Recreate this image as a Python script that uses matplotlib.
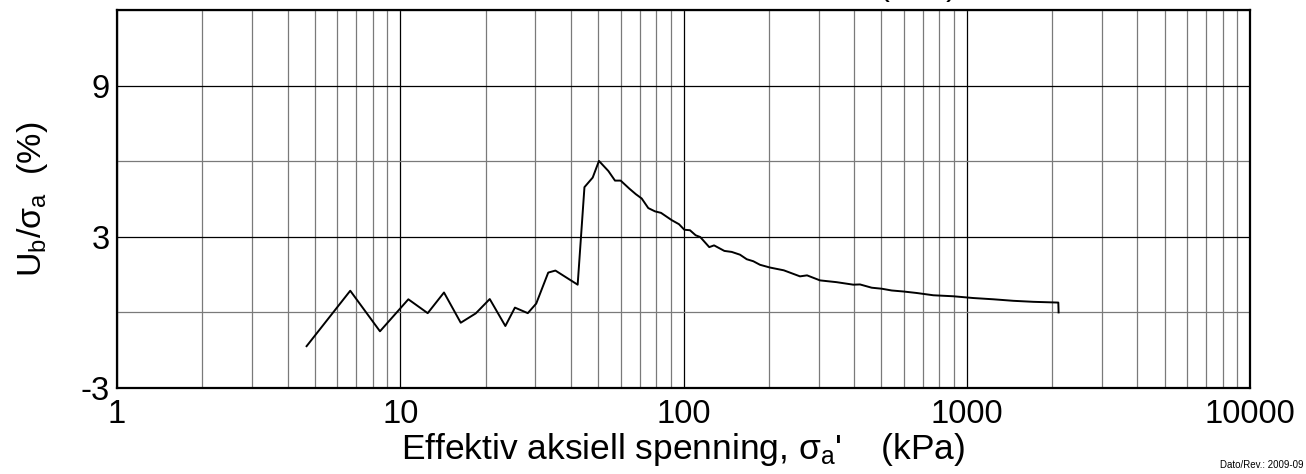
import matplotlib
matplotlib.use("Agg")
import matplotlib.pyplot as plt
from matplotlib.ticker import FixedLocator, NullFormatter

plt.rcParams['font.family'] = ['Liberation Sans', 'DejaVu Sans']
plt.rcParams['mathtext.fontset'] = 'custom'
plt.rcParams['mathtext.rm'] = 'Liberation Sans'
plt.rcParams['mathtext.it'] = 'Liberation Sans'
plt.rcParams['mathtext.bf'] = 'Liberation Sans:bold'

# Effective axial stress (kPa)
stress = [4.67, 6.66, 8.48, 10.68, 12.5, 14.27, 16.35, 18.47, 20.7, 23.5,
          25.4, 28.2, 30.2, 33.3, 35.3, 42.3, 44.7, 47.8, 50.3, 54.3,
          57.3, 60.0, 64.4, 67.9, 71.2, 75.1, 79.3, 83.3, 90.9, 96.4,
          100.7, 105.4, 110.4, 114.6, 123.3, 128.2, 139.4, 148, 158.3, 167.2,
          176.4, 186.2, 202, 226, 257.8, 273, 303.4, 347, 397.7, 419.8,
          461.7, 500.8, 543, 597, 666, 762, 897, 1055, 1242, 1460,
          1718, 2105, 2110]
# Ub / sigma_a (%)
ratio = [-1.34, 0.86, -0.75, 0.52, -0.03, 0.79, -0.41, -0.04, 0.53, -0.54,
         0.19, -0.03, 0.35, 1.58, 1.66, 1.10, 4.97, 5.35, 6.01, 5.61,
         5.23, 5.23, 4.91, 4.69, 4.52, 4.14, 4.01, 3.95, 3.66, 3.50,
         3.28, 3.26, 3.06, 2.99, 2.59, 2.66, 2.44, 2.40, 2.29, 2.11,
         2.03, 1.89, 1.78, 1.67, 1.43, 1.47, 1.27, 1.20, 1.10, 1.11,
         0.98, 0.94, 0.87, 0.83, 0.77, 0.68, 0.64, 0.57, 0.52, 0.46,
         0.42, 0.39, 0.0]

x_ticks = [1, 10, 100, 1000, 10000]
x_tick_labels = ["1", "10", "100", "1000", "10000"]
y_ticks = [-3, 3, 9]
y_tick_labels = ["-3", "3", "9"]
y_minor = [0, 6, 12]

fig = plt.figure(figsize=(13.06, 4.74), dpi=100)
ax = fig.add_axes([117/1306, 1-388/474, (1250-117)/1306, (388-10)/474])

ax.set_xscale('log')
ax.set_xlim(1, 10000)
ax.set_ylim(-3, 12)

minor_x = [m*10**d for d in range(0, 4) for m in range(2, 10)]
ax.xaxis.set_major_locator(FixedLocator(x_ticks))
ax.xaxis.set_minor_locator(FixedLocator(minor_x))
ax.xaxis.set_minor_formatter(NullFormatter())
ax.set_xticklabels(x_tick_labels)
ax.yaxis.set_major_locator(FixedLocator(y_ticks))
ax.yaxis.set_minor_locator(FixedLocator(y_minor))
ax.set_yticklabels(y_tick_labels)

ax.grid(True, which='major', color='black', lw=0.9)
ax.grid(True, which='minor', color='#7a7a7a', lw=0.9)
ax.set_axisbelow(True)

ax.tick_params(which='both', length=0, labelsize=23.5)
ax.tick_params(axis='x', pad=8)
ax.tick_params(axis='y', pad=5)
for s in ax.spines.values():
    s.set_linewidth(1.6)
    s.set_color('black')

ax.plot(stress, ratio, color='black', lw=1.4)

ax.set_xlabel(r"Effektiv aksiell spenning, $\sigma_\mathrm{a}$'    (kPa)", fontsize=25.5, labelpad=1)
ax.set_ylabel(r"U$_\mathrm{b}$/$\sigma_\mathrm{a}$  (%)", fontsize=24.5, labelpad=22)

fig.text(918/1306, 1+4.5/474, "(kPa)", fontsize=23.5, ha='center', va='baseline')
fig.text(1303/1306, 1-465/474, "Dato/Rev.: 2009-09", fontsize=7, ha='right', va='center')

fig.savefig("out.png", dpi=100)
